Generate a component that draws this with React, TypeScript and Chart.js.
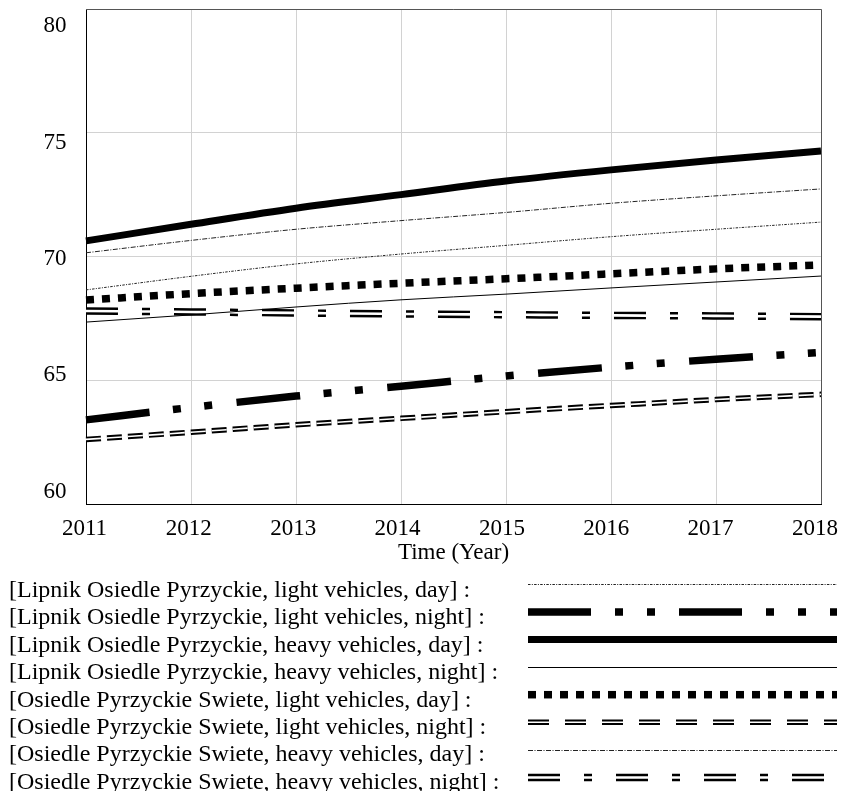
import React, { useEffect, useRef } from "react";
import { Chart, registerables } from "chart.js";

Chart.register(...registerables);

const years = ["2011", "2012", "2013", "2014", "2015", "2016", "2017", "2018"];
const yTicks = [60, 65, 70, 75, 80];

const lipnikLightDay = [68.65, 69.2, 69.7, 70.1, 70.45, 70.8, 71.1, 71.39];
const lipnikLightNight = [63.4, 63.9, 64.36, 64.76, 65.17, 65.53, 65.85, 66.12];
const lipnikHeavyDay = [70.63, 71.3, 71.95, 72.5, 73.05, 73.5, 73.9, 74.26];
const lipnikHeavyNight = [67.35, 67.64, 67.96, 68.25, 68.48, 68.73, 68.97, 69.21];
const swieteLightDay = [68.24, 68.5, 68.72, 68.92, 69.1, 69.3, 69.5, 69.66];
const swieteLightNight = [62.61, 62.9, 63.2, 63.46, 63.73, 63.98, 64.22, 64.43];
const swieteHeavyDay = [70.15, 70.65, 71.1, 71.45, 71.78, 72.15, 72.45, 72.73];
const swieteHeavyNight = [67.8, 67.76, 67.72, 67.68, 67.65, 67.62, 67.6, 67.57];

const legendLabels = [
  "[Lipnik Osiedle Pyrzyckie, light vehicles, day] :",
  "[Lipnik Osiedle Pyrzyckie, light vehicles, night] :",
  "[Lipnik Osiedle Pyrzyckie, heavy vehicles, day] :",
  "[Lipnik Osiedle Pyrzyckie, heavy vehicles, night] :",
  "[Osiedle Pyrzyckie Swiete, light vehicles, day] :",
  "[Osiedle Pyrzyckie Swiete, light vehicles, night] :",
  "[Osiedle Pyrzyckie Swiete, heavy vehicles, day] :",
  "[Osiedle Pyrzyckie Swiete, heavy vehicles, night] :",
];

const seriesValues = [
  lipnikLightDay,
  lipnikLightNight,
  lipnikHeavyDay,
  lipnikHeavyNight,
  swieteLightDay,
  swieteLightNight,
  swieteHeavyDay,
  swieteHeavyNight,
];

type Style = {
  color: string;
  width: number;
  dash: number[];
  legendDash: number[];
  inner?: number;
};

const styles: Style[] = [
  { color: "#222", width: 1, dash: [2.5, 1.3, 1, 1.3], legendDash: [2.5, 1.3, 1, 1.3] },
  { color: "#000", width: 7.5, dash: [64, 23.5, 8, 23.5, 8, 24.5], legendDash: [63, 24, 8, 24, 8, 24] },
  { color: "#000", width: 7, dash: [], legendDash: [] },
  { color: "#000", width: 1, dash: [], legendDash: [] },
  { color: "#000", width: 7.5, dash: [8, 8], legendDash: [8, 8] },
  { color: "#000", width: 5.5, dash: [15, 6], legendDash: [21, 16], inner: 1.6 },
  { color: "#222", width: 1, dash: [5, 1.5, 1, 1.5], legendDash: [5, 1.5, 1, 1.5] },
  { color: "#000", width: 7.5, dash: [32, 24, 8, 24], legendDash: [32, 24, 8, 24], inner: 2.6 },
];

const TICK_FONT = "23px 'Liberation Serif', 'Times New Roman', serif";
const LEGEND_FONT = "24px 'Liberation Serif', 'Times New Roman', serif";

const decorPlugin = {
  id: "decor",
  afterDraw(chart: any) {
    const { ctx, chartArea: a, scales } = chart;
    const xs = scales.x;
    const ys = scales.y;
    ctx.save();
    // frame top/right
    ctx.strokeStyle = "#555";
    ctx.lineWidth = 1;
    ctx.setLineDash([]);
    ctx.beginPath();
    ctx.moveTo(a.left, a.top + 0.5);
    ctx.lineTo(a.right + 0.5, a.top + 0.5);
    ctx.lineTo(a.right + 0.5, a.bottom);
    ctx.stroke();

    ctx.font = TICK_FONT;
    ctx.fillStyle = "#000";
    ctx.textBaseline = "alphabetic";
    ctx.textAlign = "right";
    yTicks.forEach((v) => {
      const py = ys.getPixelForValue(v);
      ctx.fillText(String(v), 66.5, py + 8.5 + (v - 70) * 1.46);
    });
    ctx.textAlign = "center";
    years.forEach((yr, i) => {
      const px = xs.getPixelForValue(i);
      ctx.fillText(yr, px - 1.5 - i * 0.65, 535);
    });
    ctx.fillText("Time (Year)", (a.left + a.right) / 2, 559);

    // legend
    const x0 = 528;
    const x1 = 837;
    ctx.font = LEGEND_FONT;
    legendLabels.forEach((lab, i) => {
      ctx.textAlign = "left";
      ctx.fillStyle = "#000";
      ctx.fillText(lab, 9, 597 + 27.4 * i);
      const st = styles[i];
      let sy = 584.3 + 27.6 * i;
      if (st.width <= 1) sy = Math.round(sy) + 0.5;
      ctx.lineCap = "butt";
      ctx.strokeStyle = st.color;
      ctx.lineWidth = st.width;
      ctx.setLineDash(st.legendDash);
      ctx.beginPath();
      ctx.moveTo(x0, sy);
      ctx.lineTo(x1, sy);
      ctx.stroke();
      if (st.inner) {
        ctx.strokeStyle = "#fff";
        ctx.lineWidth = st.inner;
        ctx.beginPath();
        ctx.moveTo(x0, sy);
        ctx.lineTo(x1, sy);
        ctx.stroke();
      }
    });
    ctx.restore();
  },
};

export default function App() {
  const ref = useRef<HTMLCanvasElement | null>(null);
  useEffect(() => {
    if (!ref.current) return;
    const datasets: any[] = [];
    seriesValues.forEach((vals, i) => {
      const st = styles[i];
      datasets.push({
        label: legendLabels[i],
        data: vals,
        borderColor: st.color,
        borderWidth: st.width,
        borderDash: st.dash,
        borderCapStyle: "butt",
        pointRadius: 0,
        fill: false,
        cubicInterpolationMode: "monotone",
        order: st.inner ? 20 : 10,
      });
      if (st.inner) {
        datasets.push({
          label: legendLabels[i] + " inner",
          data: vals,
          borderColor: "#fff",
          borderWidth: st.inner,
          borderDash: st.dash,
          borderCapStyle: "butt",
          pointRadius: 0,
          fill: false,
          cubicInterpolationMode: "monotone",
          order: 19,
        });
      }
    });
    const chart = new Chart(ref.current, {
      type: "line",
      data: { labels: years, datasets },
      options: {
        animation: false,
        responsive: false,
        devicePixelRatio: 1,
        layout: { padding: { top: 9, right: 24, left: 0, bottom: 0 } },
        plugins: { legend: { display: false }, tooltip: { enabled: false } },
        scales: {
          x: {
            type: "category",
            offset: false,
            grid: { color: "#d2d2d2", drawTicks: false, lineWidth: 1 },
            border: { color: "#000", width: 1 },
            ticks: { display: false },
            afterFit: (s: any) => {
              s.height = 287;
            },
          },
          y: {
            min: 60,
            max: 80,
            grid: { color: "#d2d2d2", drawTicks: false, lineWidth: 1 },
            border: { color: "#000", width: 1 },
            ticks: { display: false, stepSize: 5 },
            afterFit: (s: any) => {
              s.width = 86;
            },
          },
        },
      },
      plugins: [decorPlugin],
    });
    return () => chart.destroy();
  }, []);
  return (
    <div style={{ position: "absolute", left: 0, top: 0, width: 845, height: 791, background: "#fff" }}>
      <canvas ref={ref} width={845} height={791} style={{ display: "block" }} />
    </div>
  );
}
